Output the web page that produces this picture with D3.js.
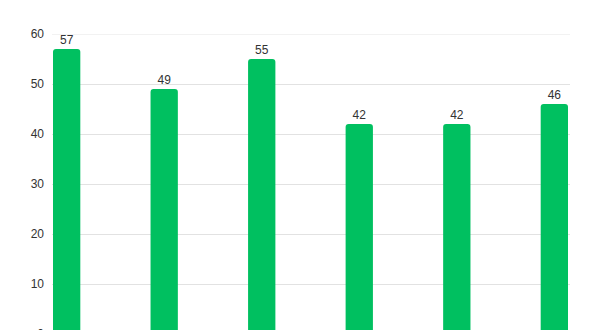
<!DOCTYPE html>
<html lang="en">
<head>
    <meta charset="UTF-8">
    <title>Bar Chart</title>
    <script src="https://d3js.org/d3.v7.min.js"></script>
    <style>
        body { margin: 0; background: #fff; }
        text { font-family: "Liberation Sans", Arial, sans-serif; }
    </style>
</head>
<body>
    <div id="chart"></div>
    <script>
        const categories = ["A", "B", "C", "D", "E", "F"];
        const values = [57, 49, 55, 42, 42, 46];
        const yTicks = [0, 10, 20, 30, 40, 50, 60];

        const width = 600, height = 330;

        const svg = d3.select("#chart")
            .append("svg")
            .attr("width", width)
            .attr("height", height);

        const x = d3.scaleBand()
            .domain(categories)
            .range([53, 568])
            .paddingInner(0.72)
            .paddingOuter(0);

        const y = d3.scaleLinear()
            .domain([0, 60])
            .range([334, 34]);

        // gridlines
        svg.append("g")
            .selectAll("line")
            .data(yTicks)
            .join("line")
            .attr("x1", 52)
            .attr("x2", 570)
            .attr("y1", d => y(d) + 0.5)
            .attr("y2", d => y(d) + 0.5)
            .attr("stroke", d => d === 60 ? "#f2f2f2" : "#e2e2e2")
            .attr("stroke-width", 1);

        // y axis labels
        const yAxis = svg.append("g")
            .attr("transform", "translate(44,0)")
            .call(d3.axisLeft(y).tickValues(yTicks).tickSize(0).tickPadding(0));
        yAxis.select(".domain").remove();
        yAxis.selectAll("text")
            .attr("font-size", 12)
            .attr("fill", "#333")
            .style("font-family", "'Liberation Sans', Arial, sans-serif");

        // bars with rounded tops
        const r = 3;
        svg.append("g")
            .selectAll("path")
            .data(values)
            .join("path")
            .attr("fill", "#00c060")
            .attr("d", (d, i) => {
                const x0 = x(categories[i]), w = x.bandwidth();
                const top = y(d), bottom = y(0) + 5;
                return `M${x0},${bottom}V${top + r}Q${x0},${top} ${x0 + r},${top}` +
                    `H${x0 + w - r}Q${x0 + w},${top} ${x0 + w},${top + r}V${bottom}Z`;
            });

        // value labels
        svg.append("g")
            .selectAll("text")
            .data(values)
            .join("text")
            .attr("x", (d, i) => x(categories[i]) + x.bandwidth() / 2)
            .attr("y", d => y(d) - 5)
            .attr("text-anchor", "middle")
            .attr("font-size", 12)
            .attr("fill", "#333")
            .text(d => d);
    </script>
</body>
</html>
